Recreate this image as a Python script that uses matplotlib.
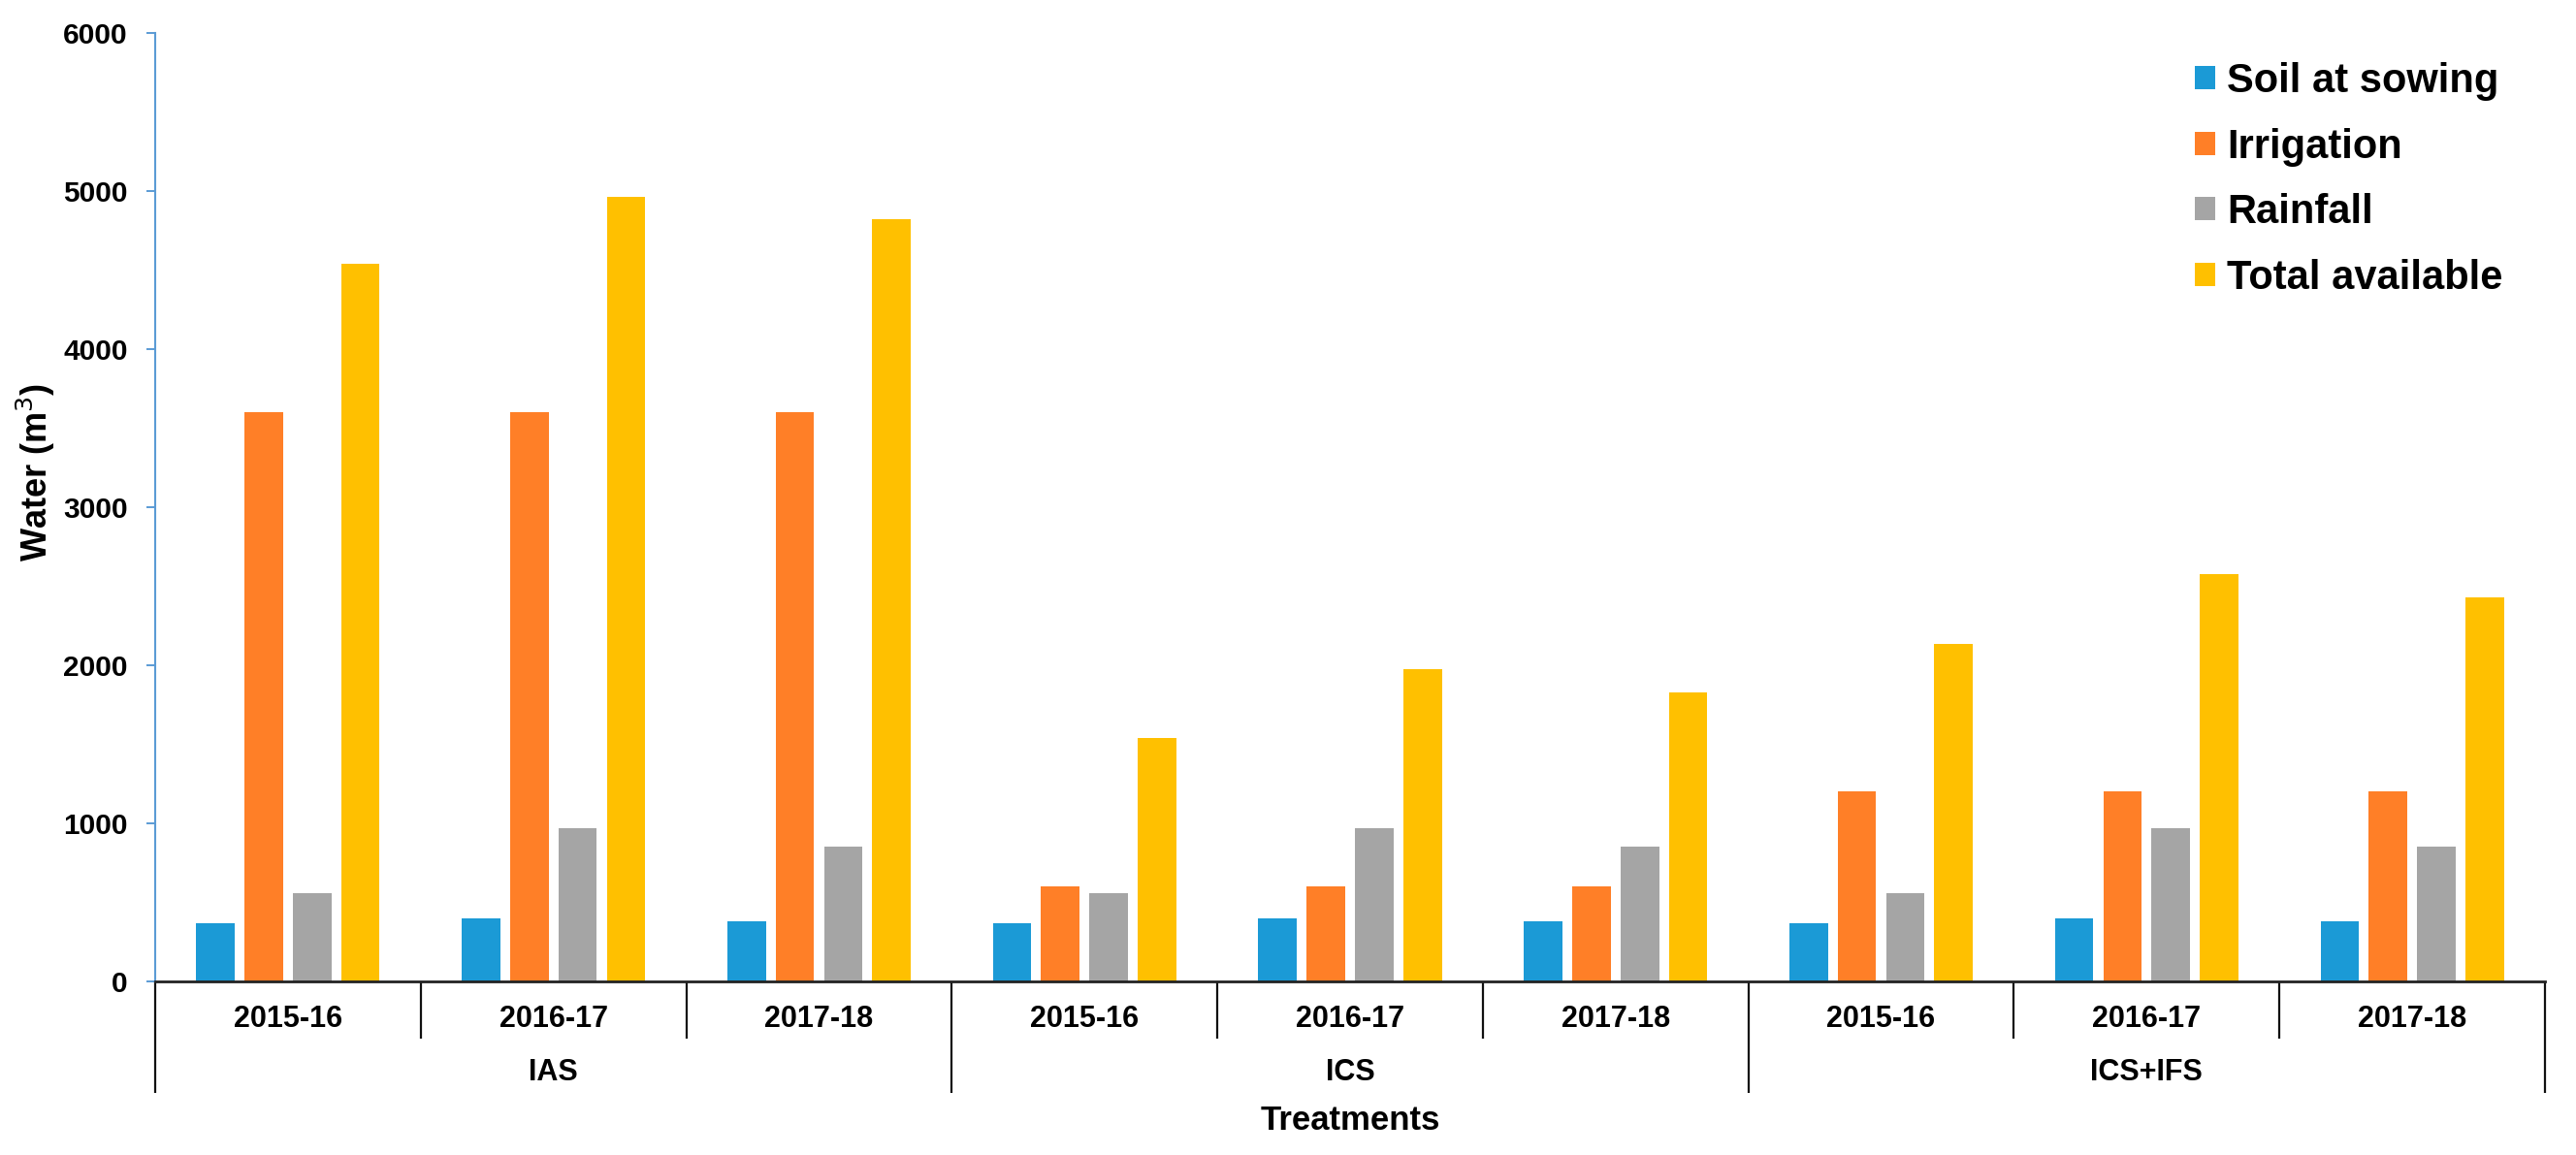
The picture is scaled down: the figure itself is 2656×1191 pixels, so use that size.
import matplotlib
matplotlib.use("Agg")
import matplotlib.pyplot as plt
import matplotlib.transforms as mtransforms
import numpy as np

plt.rcParams['font.family'] = ['Liberation Sans', 'DejaVu Sans']

years = ["2015-16", "2016-17", "2017-18", "2015-16", "2016-17", "2017-18",
         "2015-16", "2016-17", "2017-18"]
groups = ["IAS", "ICS", "ICS+IFS"]
series_names = ["Soil at sowing", "Irrigation", "Rainfall", "Total available"]
soil = [368, 399, 380, 368, 399, 380, 368, 399, 380]
irrigation = [3600, 3600, 3600, 600, 600, 600, 1200, 1200, 1200]
rainfall = [560, 968, 855, 560, 968, 855, 560, 968, 855]
total = [4540, 4966, 4820, 1537, 1973, 1828, 2138, 2576, 2430]
colors = ["#1B9AD6", "#FF7F27", "#A5A5A5", "#FFC000"]

fig = plt.figure(figsize=(26.56, 11.91), dpi=100)
ax = fig.add_axes([160/2656, 1 - 1012/1191, 2464/2656, 978/1191])

x = np.arange(len(years))
width = 0.145
step = 0.182
for i, (vals, name, c) in enumerate(zip([soil, irrigation, rainfall, total], series_names, colors)):
    ax.bar(x + (i - 1.5) * step, vals, width=width, color=c, label=name, zorder=2)

ax.set_xlim(-0.5, len(years) - 0.5)
ax.set_ylim(0, 6000)
ax.set_yticks(np.arange(0, 6001, 1000))
ax.tick_params(axis='y', direction='out', length=6.5, width=1.4, color='#5B9BD5',
               pad=14, labelsize=21.5)
for lab in ax.get_yticklabels():
    lab.set_fontweight('bold')

ax.set_xticks(x)
ax.set_xticklabels(years, fontsize=22, fontweight='bold')
ax.tick_params(axis='x', length=0, pad=17)

for s in ['top', 'right']:
    ax.spines[s].set_visible(False)
ax.spines['left'].set_color('#5B9BD5')
ax.spines['left'].set_linewidth(1.5)
ax.spines['bottom'].set_color('#222222')
ax.spines['bottom'].set_linewidth(2.0)

trans = mtransforms.blended_transform_factory(ax.transData, ax.transAxes)
# year dividers
for b in np.arange(-0.5, len(years), 1.0):
    idx = int(b + 0.5)
    bottom = -0.1176 if idx % 3 == 0 else -0.0603
    ax.plot([b, b], [0, bottom], transform=trans, color='#111111', lw=1.6,
            clip_on=False, solid_capstyle='butt')

for gi, g in enumerate(groups):
    ax.text(gi * 3 + 1, -0.0961, g, transform=trans, ha='center', va='center',
            fontsize=22, fontweight='bold')

ax.text(0.5 * (len(years) - 1), -0.147, "Treatments", transform=trans, ha='center',
        va='center', fontsize=25, fontweight='bold')

ax.set_ylabel("Water (m$^3$)", fontsize=26, fontweight='bold', va='center')
ax.yaxis.set_label_coords(-0.0499, 0.537)

leg = fig.legend(loc='upper left', bbox_to_anchor=(2263/2656, 1 - 64/1191),
                 frameon=False, fontsize=30, handlelength=0.5, handleheight=0.5,
                 handletextpad=0.3, labelspacing=0.66, borderpad=0, borderaxespad=0)
for t in leg.get_texts():
    t.set_fontweight('bold')

fig.savefig("out.png", dpi=100)
